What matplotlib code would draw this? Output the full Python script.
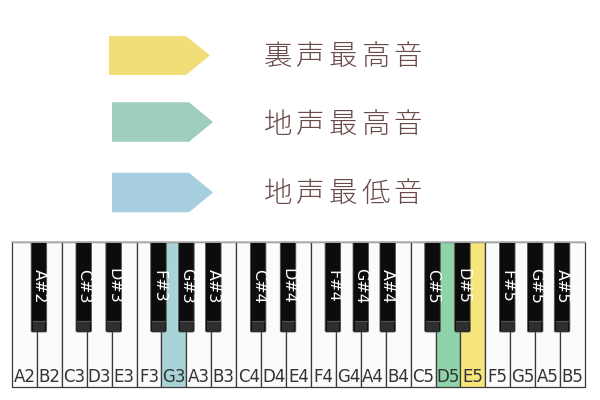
#!/usr/bin/env python3
"""Piano range chart: falsetto / chest voice highest and lowest notes on a keyboard."""
import matplotlib
matplotlib.use("Agg")
import matplotlib.pyplot as plt
from matplotlib.patches import Rectangle, Polygon, FancyBboxPatch

plt.rcParams['font.family'] = ['Noto Sans CJK JP', 'DejaVu Sans']

# --- data ---
white_keys = ["A2", "B2",
              "C3", "D3", "E3", "F3", "G3", "A3", "B3",
              "C4", "D4", "E4", "F4", "G4", "A4", "B4",
              "C5", "D5", "E5", "F5", "G5", "A5", "B5"]
black_keys = ["A#2",
              "C#3", "D#3", "F#3", "G#3", "A#3",
              "C#4", "D#4", "F#4", "G#4", "A#4",
              "C#5", "D#5", "F#5", "G#5", "A#5"]
legend_labels = ["裏声最高音", "地声最高音", "地声最低音"]
legend_colors = ["#f2de78", "#9fcdbf", "#a8cfe0"]
marked_keys = ["E5", "D5", "G3"]          # same order as legend
key_colors = ["#f5e57a", "#8ed3aa", "#a8d4d8"]

# --- layout (pixels, y down) ---
X0, X1 = 12, 585
TOP, BOTTOM, BLACK_BOTTOM = 242, 387, 332
KW = (X1 - X0) / len(white_keys)
BW = 15.5
shift = {"C": -3.0, "D": 2.0, "F": -3.0, "G": 0.0, "A": 2.0}

fig = plt.figure(figsize=(6, 4), dpi=100)
ax = fig.add_axes([0, 0, 1, 1])
ax.set_xlim(0, 600)
ax.set_ylim(400, 0)
ax.axis("off")

# legend arrows + labels (labels letter-spaced like the original)
arrow_y = [55.5, 122, 192.5]
text_y = [57, 125, 193.5]
for i, (lab, col) in enumerate(zip(legend_labels, legend_colors)):
    yc = arrow_y[i]
    x_left = 109 if i == 0 else 112
    h = 39 if i == 0 else 39.5
    body = x_left + 77
    pts = [(x_left, yc - h / 2), (body, yc - h / 2), (body + 24, yc),
           (body, yc + h / 2), (x_left, yc + h / 2)]
    ax.add_patch(Polygon(pts, closed=True, facecolor=col, edgecolor="none"))
    for j, ch in enumerate(lab):
        ax.text(278 + j * 32.5, text_y[i], ch, fontsize=20.5, color="#6b4a4a",
                fontweight="light", ha="center", va="center")

# white keys
for i, name in enumerate(white_keys):
    x = X0 + i * KW
    face = "#fbfbfb"
    if name in marked_keys:
        face = key_colors[marked_keys.index(name)]
    ax.add_patch(Rectangle((x, TOP), KW, BOTTOM - TOP, facecolor=face,
                           edgecolor="#3a3a3a", linewidth=0.9))
    ax.text(x + KW / 2, 377, name, fontsize=12, color="#333333",
            ha="center", va="center", family="DejaVu Sans")

# top edge is lighter
ax.plot([X0, X1], [TOP, TOP], color="#bbbbbb", linewidth=1.2)

# black keys
for name in black_keys:
    base = name.replace("#", "")
    idx = white_keys.index(base)
    xc = X0 + (idx + 1) * KW + shift[base[0]]
    ax.add_patch(FancyBboxPatch((xc - BW / 2, TOP), BW, BLACK_BOTTOM - TOP,
                                boxstyle="round,pad=0,rounding_size=1.5",
                                facecolor="#0c0c0c", edgecolor="#555555",
                                linewidth=0.6))
    ax.add_patch(Rectangle((xc - BW / 2 + 1.5, 321), BW - 3, 9.5,
                           facecolor="#2e2e2e", edgecolor="none"))
    ax.plot([xc - BW / 2 + 1.5, xc + BW / 2 - 1.5], [321, 321],
            color="#555555", linewidth=0.8)
    ax.text(xc, 286, name, fontsize=11.5, color="white", rotation=270,
            ha="center", va="center", family="DejaVu Sans")

fig.savefig("out.png", dpi=100, facecolor="white")
